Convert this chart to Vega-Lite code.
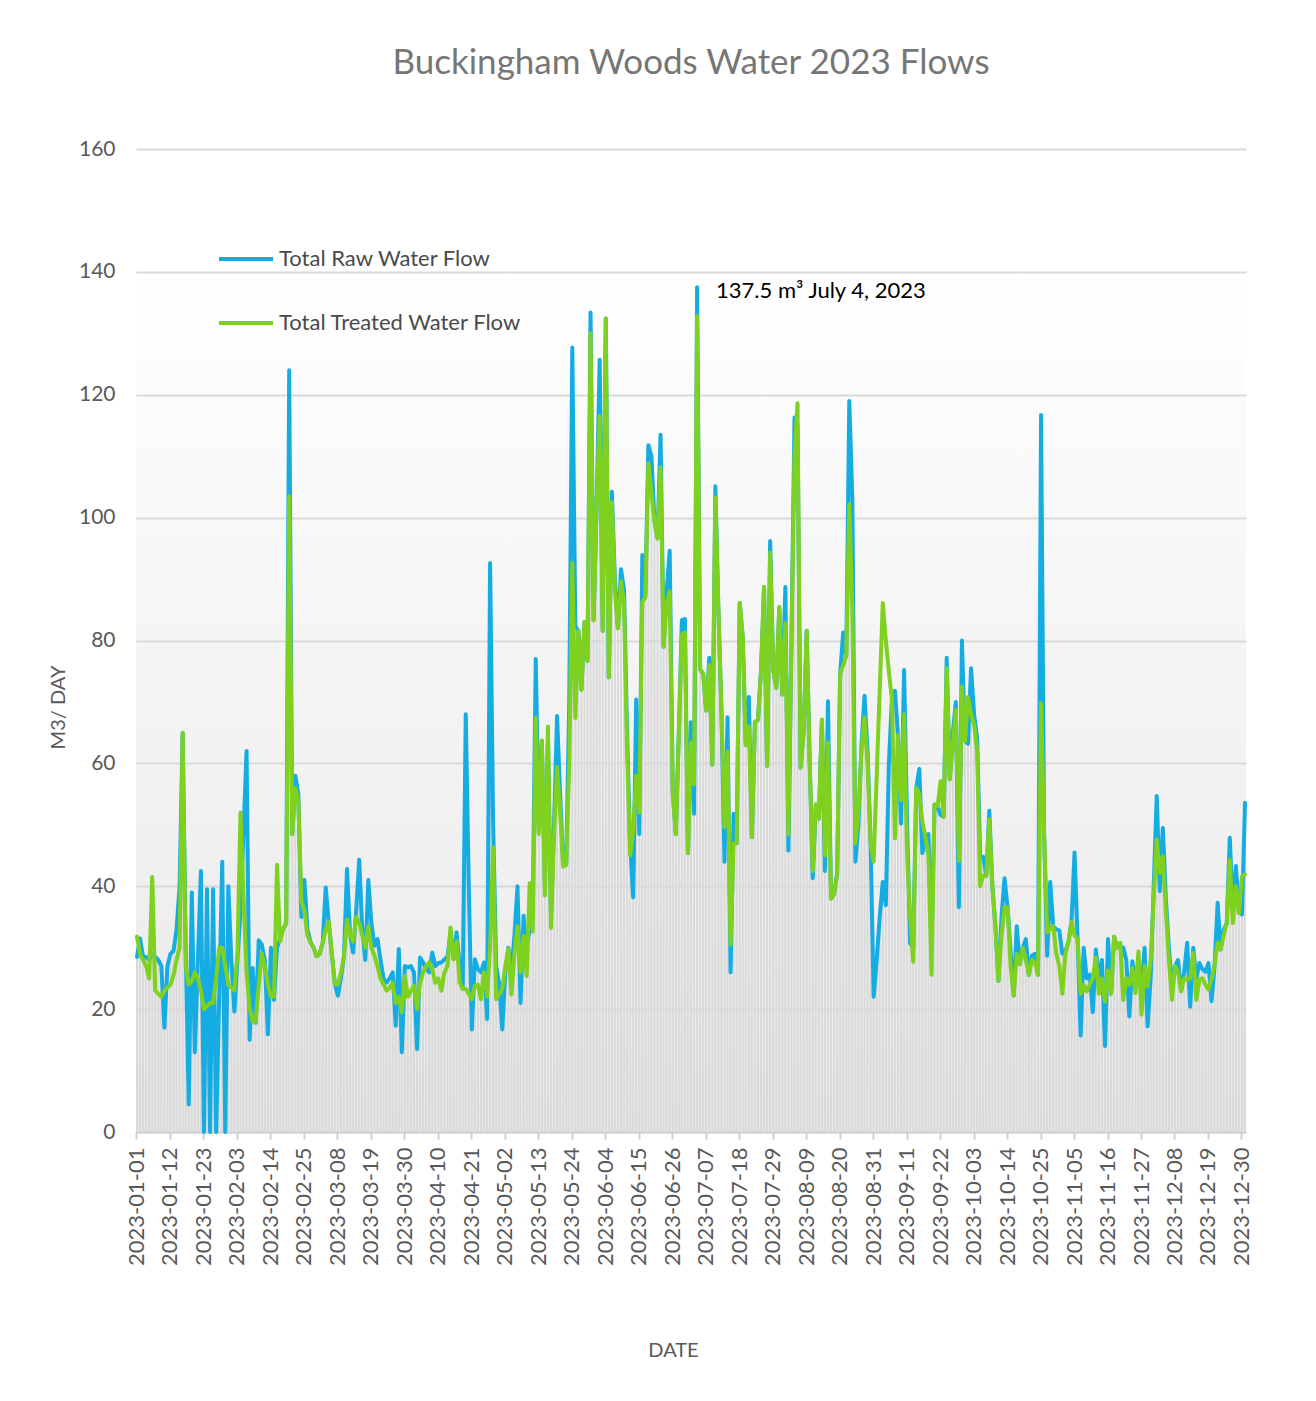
{
"$schema":"https://vega.github.io/schema/vega-lite/v6.json",
"width":1110,"height":983,
"autosize":{"type":"none"},
"padding":{"left":136,"top":149,"right":70,"bottom":269},
"background":"white",
"title":{"text":"Buckingham Woods Water 2023 Flows","font":"Lato","fontSize":35,"fontWeight":"normal","color":"#767676","anchor":"middle","offset":57},
"config":{"view":{"stroke":null,"fill":{"gradient":"linear","x1":0,"y1":0,"x2":0,"y2":1,"stops":[{"offset":0,"color":"#ffffff"},{"offset":0.12,"color":"#ffffff"},{"offset":0.5,"color":"#f5f5f5"},{"offset":1,"color":"#e9e9e9"}]}},"font":"Lato"},
"data":{"values":[
{"date":"2023-01-01","raw":28.5,"treated":31.8},{"date":"2023-01-02","raw":31.5,"treated":29},{"date":"2023-01-03","raw":28.5,"treated":28},{"date":"2023-01-04","raw":28.5,"treated":27},{"date":"2023-01-05","raw":28,"treated":25},{"date":"2023-01-06","raw":29,"treated":41.5},{"date":"2023-01-07","raw":28.5,"treated":23},{"date":"2023-01-08","raw":28,"treated":22.5},{"date":"2023-01-09","raw":27,"treated":22},{"date":"2023-01-10","raw":17,"treated":23},
{"date":"2023-01-11","raw":27,"treated":23.5},{"date":"2023-01-12","raw":29,"treated":24},{"date":"2023-01-13","raw":29.5,"treated":25.5},{"date":"2023-01-14","raw":33,"treated":28},{"date":"2023-01-15","raw":40,"treated":30},{"date":"2023-01-16","raw":65,"treated":65},{"date":"2023-01-17","raw":30,"treated":27},{"date":"2023-01-18","raw":4.5,"treated":24},{"date":"2023-01-19","raw":39,"treated":24.5},{"date":"2023-01-20","raw":13,"treated":26},
{"date":"2023-01-21","raw":28,"treated":25},{"date":"2023-01-22","raw":42.5,"treated":23},{"date":"2023-01-23","raw":0,"treated":20},{"date":"2023-01-24","raw":39.5,"treated":20.5},{"date":"2023-01-25","raw":0,"treated":21},{"date":"2023-01-26","raw":39.5,"treated":21},{"date":"2023-01-27","raw":0,"treated":25},{"date":"2023-01-28","raw":22,"treated":30},{"date":"2023-01-29","raw":44,"treated":30},{"date":"2023-01-30","raw":0,"treated":27},{"date":"2023-01-31","raw":40,"treated":24},
{"date":"2023-02-01","raw":28,"treated":23.5},{"date":"2023-02-02","raw":19.6,"treated":23},{"date":"2023-02-03","raw":28,"treated":29},{"date":"2023-02-04","raw":36,"treated":52},{"date":"2023-02-05","raw":49,"treated":38},{"date":"2023-02-06","raw":62,"treated":26},{"date":"2023-02-07","raw":15,"treated":20},{"date":"2023-02-08","raw":26.7,"treated":18},{"date":"2023-02-09","raw":17.8,"treated":18},{"date":"2023-02-10","raw":31.2,"treated":24},
{"date":"2023-02-11","raw":30.5,"treated":29},{"date":"2023-02-12","raw":28,"treated":27},{"date":"2023-02-13","raw":15.9,"treated":24},{"date":"2023-02-14","raw":30,"treated":22},{"date":"2023-02-15","raw":21.5,"treated":22},{"date":"2023-02-16","raw":30,"treated":43.5},{"date":"2023-02-17","raw":31.5,"treated":31},{"date":"2023-02-18","raw":33,"treated":33},{"date":"2023-02-19","raw":34,"treated":34},{"date":"2023-02-20","raw":124,"treated":103.5},
{"date":"2023-02-21","raw":48.5,"treated":48.5},{"date":"2023-02-22","raw":58,"treated":56},{"date":"2023-02-23","raw":55,"treated":54},{"date":"2023-02-24","raw":35,"treated":37.5},{"date":"2023-02-25","raw":41,"treated":36},{"date":"2023-02-26","raw":33,"treated":32},{"date":"2023-02-27","raw":31,"treated":30.8},{"date":"2023-02-28","raw":30,"treated":30},
{"date":"2023-03-01","raw":28.6,"treated":28.6},{"date":"2023-03-02","raw":29,"treated":29},{"date":"2023-03-03","raw":30.8,"treated":30.8},{"date":"2023-03-04","raw":39.8,"treated":33},{"date":"2023-03-05","raw":34,"treated":34.2},{"date":"2023-03-06","raw":29,"treated":29},{"date":"2023-03-07","raw":24.1,"treated":24.1},{"date":"2023-03-08","raw":22.2,"treated":24},{"date":"2023-03-09","raw":25,"treated":26},{"date":"2023-03-10","raw":28.6,"treated":28.6},
{"date":"2023-03-11","raw":42.8,"treated":34.6},{"date":"2023-03-12","raw":32,"treated":32},{"date":"2023-03-13","raw":29.2,"treated":31},{"date":"2023-03-14","raw":36,"treated":35},{"date":"2023-03-15","raw":44.3,"treated":34},{"date":"2023-03-16","raw":33,"treated":32},{"date":"2023-03-17","raw":28,"treated":30},{"date":"2023-03-18","raw":41,"treated":33.5},{"date":"2023-03-19","raw":34,"treated":30},{"date":"2023-03-20","raw":30.3,"treated":28.7},
{"date":"2023-03-21","raw":31.4,"treated":27},{"date":"2023-03-22","raw":28,"treated":25},{"date":"2023-03-23","raw":25,"treated":24},{"date":"2023-03-24","raw":24.3,"treated":23},{"date":"2023-03-25","raw":25,"treated":23.5},{"date":"2023-03-26","raw":26,"treated":24.3},{"date":"2023-03-27","raw":17.3,"treated":21},{"date":"2023-03-28","raw":29.8,"treated":22},{"date":"2023-03-29","raw":13,"treated":19.5},{"date":"2023-03-30","raw":27,"treated":25.4},{"date":"2023-03-31","raw":26.8,"treated":22},
{"date":"2023-04-01","raw":27,"treated":23},{"date":"2023-04-02","raw":26,"treated":23.8},{"date":"2023-04-03","raw":13.5,"treated":20},{"date":"2023-04-04","raw":28.4,"treated":24.3},{"date":"2023-04-05","raw":27.6,"treated":26},{"date":"2023-04-06","raw":26.5,"treated":27},{"date":"2023-04-07","raw":26,"treated":27.6},{"date":"2023-04-08","raw":29.2,"treated":26.5},{"date":"2023-04-09","raw":27,"treated":24.3},{"date":"2023-04-10","raw":27.5,"treated":25},
{"date":"2023-04-11","raw":27.6,"treated":23},{"date":"2023-04-12","raw":28.1,"treated":26},{"date":"2023-04-13","raw":28.5,"treated":27},{"date":"2023-04-14","raw":32.5,"treated":33.3},{"date":"2023-04-15","raw":28.1,"treated":28.1},{"date":"2023-04-16","raw":32.5,"treated":31.1},{"date":"2023-04-17","raw":27,"treated":24.3},{"date":"2023-04-18","raw":23.3,"treated":23.3},{"date":"2023-04-19","raw":68,"treated":23.3},{"date":"2023-04-20","raw":40,"treated":22.5},
{"date":"2023-04-21","raw":16.7,"treated":21.6},{"date":"2023-04-22","raw":28.1,"treated":23.8},{"date":"2023-04-23","raw":26.5,"treated":24},{"date":"2023-04-24","raw":26,"treated":21.6},{"date":"2023-04-25","raw":27.6,"treated":26},{"date":"2023-04-26","raw":18.4,"treated":22},{"date":"2023-04-27","raw":92.6,"treated":30},{"date":"2023-04-28","raw":50,"treated":46.3},{"date":"2023-04-29","raw":27,"treated":21.6},{"date":"2023-04-30","raw":24,"treated":22.5},
{"date":"2023-05-01","raw":16.7,"treated":23.3},{"date":"2023-05-02","raw":26,"treated":27},{"date":"2023-05-03","raw":30,"treated":29.8},{"date":"2023-05-04","raw":26,"treated":22.4},{"date":"2023-05-05","raw":32,"treated":29},{"date":"2023-05-06","raw":40,"treated":33.5},{"date":"2023-05-07","raw":21,"treated":26},{"date":"2023-05-08","raw":35.2,"treated":31.9},{"date":"2023-05-09","raw":30,"treated":25.4},{"date":"2023-05-10","raw":33,"treated":40.5},
{"date":"2023-05-11","raw":36,"treated":32.6},{"date":"2023-05-12","raw":77,"treated":67.4},{"date":"2023-05-13","raw":49,"treated":48.5},{"date":"2023-05-14","raw":63.7,"treated":63.7},{"date":"2023-05-15","raw":40,"treated":38.5},{"date":"2023-05-16","raw":64,"treated":66},{"date":"2023-05-17","raw":35,"treated":33.2},{"date":"2023-05-18","raw":50,"treated":48},{"date":"2023-05-19","raw":67.7,"treated":59.4},{"date":"2023-05-20","raw":55,"treated":52},
{"date":"2023-05-21","raw":44,"treated":43.2},{"date":"2023-05-22","raw":43.5,"treated":43.5},{"date":"2023-05-23","raw":70,"treated":60},{"date":"2023-05-24","raw":127.7,"treated":92.6},{"date":"2023-05-25","raw":82.3,"treated":67.4},{"date":"2023-05-26","raw":81.6,"treated":81.6},{"date":"2023-05-27","raw":72,"treated":72},{"date":"2023-05-28","raw":83,"treated":83},{"date":"2023-05-29","raw":76.7,"treated":76.7},{"date":"2023-05-30","raw":133.4,"treated":130},{"date":"2023-05-31","raw":83.3,"treated":83.3},
{"date":"2023-06-01","raw":102,"treated":102},{"date":"2023-06-02","raw":125.7,"treated":116.5},{"date":"2023-06-03","raw":81.6,"treated":81.6},{"date":"2023-06-04","raw":132.4,"treated":132.4},{"date":"2023-06-05","raw":74,"treated":74},{"date":"2023-06-06","raw":104.2,"treated":102.5},{"date":"2023-06-07","raw":90,"treated":88},{"date":"2023-06-08","raw":82,"treated":82},{"date":"2023-06-09","raw":91.6,"treated":89.6},{"date":"2023-06-10","raw":88.3,"treated":86},
{"date":"2023-06-11","raw":65,"treated":62},{"date":"2023-06-12","raw":47,"treated":45},{"date":"2023-06-13","raw":38.2,"treated":49},{"date":"2023-06-14","raw":70.4,"treated":58},{"date":"2023-06-15","raw":48.5,"treated":52},{"date":"2023-06-16","raw":93.9,"treated":86.3},{"date":"2023-06-17","raw":87.3,"treated":87},{"date":"2023-06-18","raw":111.8,"treated":108.8},{"date":"2023-06-19","raw":110,"treated":104},{"date":"2023-06-20","raw":99.5,"treated":99.5},
{"date":"2023-06-21","raw":96.6,"treated":96.6},{"date":"2023-06-22","raw":113.5,"treated":108.2},{"date":"2023-06-23","raw":79,"treated":79},{"date":"2023-06-24","raw":88,"treated":86},{"date":"2023-06-25","raw":94.6,"treated":88},{"date":"2023-06-26","raw":55.8,"treated":55},{"date":"2023-06-27","raw":48.5,"treated":48.5},{"date":"2023-06-28","raw":65,"treated":65},{"date":"2023-06-29","raw":83.3,"treated":81},{"date":"2023-06-30","raw":83.5,"treated":81.3},
{"date":"2023-07-01","raw":45.4,"treated":45.4},{"date":"2023-07-02","raw":66.7,"treated":63.4},{"date":"2023-07-03","raw":51.8,"treated":56.6},{"date":"2023-07-04","raw":137.5,"treated":132.8},{"date":"2023-07-05","raw":75.3,"treated":75.3},{"date":"2023-07-06","raw":74.6,"treated":74.6},{"date":"2023-07-07","raw":68.6,"treated":68.6},{"date":"2023-07-08","raw":77.2,"treated":76},{"date":"2023-07-09","raw":59.8,"treated":59.8},{"date":"2023-07-10","raw":105.1,"treated":103.3},
{"date":"2023-07-11","raw":85,"treated":85},{"date":"2023-07-12","raw":68.6,"treated":68.6},{"date":"2023-07-13","raw":44,"treated":49.6},{"date":"2023-07-14","raw":67.5,"treated":61.9},{"date":"2023-07-15","raw":26,"treated":30.5},{"date":"2023-07-16","raw":51.8,"treated":47},{"date":"2023-07-17","raw":47,"treated":47},{"date":"2023-07-18","raw":86.1,"treated":86.1},{"date":"2023-07-19","raw":80.5,"treated":80.5},{"date":"2023-07-20","raw":63,"treated":63},
{"date":"2023-07-21","raw":70.8,"treated":66},{"date":"2023-07-22","raw":48,"treated":48},{"date":"2023-07-23","raw":66.7,"treated":66.7},{"date":"2023-07-24","raw":67.1,"treated":67.1},{"date":"2023-07-25","raw":75,"treated":75},{"date":"2023-07-26","raw":88.7,"treated":88.7},{"date":"2023-07-27","raw":59.6,"treated":59.6},{"date":"2023-07-28","raw":96.2,"treated":94.3},{"date":"2023-07-29","raw":75.3,"treated":75.3},{"date":"2023-07-30","raw":72.3,"treated":72.3},{"date":"2023-07-31","raw":85.4,"treated":85.4},
{"date":"2023-08-01","raw":71.2,"treated":71.2},{"date":"2023-08-02","raw":88.7,"treated":82.8},{"date":"2023-08-03","raw":45.8,"treated":48.4},{"date":"2023-08-04","raw":80,"treated":80},{"date":"2023-08-05","raw":116.3,"treated":110},{"date":"2023-08-06","raw":115,"treated":118.6},{"date":"2023-08-07","raw":59.3,"treated":59.3},{"date":"2023-08-08","raw":65,"treated":65},{"date":"2023-08-09","raw":81.6,"treated":81.6},{"date":"2023-08-10","raw":60,"treated":60},
{"date":"2023-08-11","raw":41.3,"treated":42.5},{"date":"2023-08-12","raw":53.3,"treated":53.3},{"date":"2023-08-13","raw":51,"treated":51},{"date":"2023-08-14","raw":67.1,"treated":67.1},{"date":"2023-08-15","raw":42.5,"treated":45},{"date":"2023-08-16","raw":70.1,"treated":63.4},{"date":"2023-08-17","raw":38,"treated":38},{"date":"2023-08-18","raw":38.7,"treated":38.7},{"date":"2023-08-19","raw":42,"treated":42},{"date":"2023-08-20","raw":74.6,"treated":74.6},
{"date":"2023-08-21","raw":81.3,"treated":76},{"date":"2023-08-22","raw":77.5,"treated":77.5},{"date":"2023-08-23","raw":119,"treated":102.2},{"date":"2023-08-24","raw":103,"treated":85},{"date":"2023-08-25","raw":44,"treated":47},{"date":"2023-08-26","raw":50,"treated":52},{"date":"2023-08-27","raw":63,"treated":62},{"date":"2023-08-28","raw":71,"treated":67.5},{"date":"2023-08-29","raw":62,"treated":60},{"date":"2023-08-30","raw":47,"treated":47},{"date":"2023-08-31","raw":22,"treated":44},
{"date":"2023-09-01","raw":28,"treated":58},{"date":"2023-09-02","raw":35,"treated":72},{"date":"2023-09-03","raw":40.7,"treated":86.1},{"date":"2023-09-04","raw":36.9,"treated":80},{"date":"2023-09-05","raw":60,"treated":75},{"date":"2023-09-06","raw":70.4,"treated":70.4},{"date":"2023-09-07","raw":71.8,"treated":47.8},{"date":"2023-09-08","raw":64.6,"treated":64.6},{"date":"2023-09-09","raw":50.2,"treated":54},{"date":"2023-09-10","raw":75.2,"treated":68},
{"date":"2023-09-11","raw":50,"treated":45},{"date":"2023-09-12","raw":30.7,"treated":35},{"date":"2023-09-13","raw":30,"treated":27.7},{"date":"2023-09-14","raw":56,"treated":56},{"date":"2023-09-15","raw":59.1,"treated":55},{"date":"2023-09-16","raw":45.4,"treated":50.6},{"date":"2023-09-17","raw":48,"treated":48},{"date":"2023-09-18","raw":48.5,"treated":45},{"date":"2023-09-19","raw":30,"treated":25.6},{"date":"2023-09-20","raw":53.3,"treated":53.3},
{"date":"2023-09-21","raw":53,"treated":53},{"date":"2023-09-22","raw":51.6,"treated":57.1},{"date":"2023-09-23","raw":51.3,"treated":51.3},{"date":"2023-09-24","raw":77.2,"treated":75.5},{"date":"2023-09-25","raw":57.4,"treated":57.4},{"date":"2023-09-26","raw":65,"treated":63},{"date":"2023-09-27","raw":70,"treated":68.7},{"date":"2023-09-28","raw":36.6,"treated":44.1},{"date":"2023-09-29","raw":80,"treated":72.5},{"date":"2023-09-30","raw":63.6,"treated":63.6},
{"date":"2023-10-01","raw":63.2,"treated":70.8},{"date":"2023-10-02","raw":75.5,"treated":68},{"date":"2023-10-03","raw":68,"treated":66.3},{"date":"2023-10-04","raw":64,"treated":62},{"date":"2023-10-05","raw":44.8,"treated":40},{"date":"2023-10-06","raw":44.8,"treated":41.7},{"date":"2023-10-07","raw":41.7,"treated":41.7},{"date":"2023-10-08","raw":52.3,"treated":50.9},{"date":"2023-10-09","raw":40,"treated":40},{"date":"2023-10-10","raw":33.5,"treated":33.5},
{"date":"2023-10-11","raw":24.6,"treated":24.6},{"date":"2023-10-12","raw":35,"treated":32},{"date":"2023-10-13","raw":41.3,"treated":36.6},{"date":"2023-10-14","raw":36.6,"treated":36.6},{"date":"2023-10-15","raw":29.4,"treated":27},{"date":"2023-10-16","raw":22.2,"treated":22.2},{"date":"2023-10-17","raw":33.5,"treated":29},{"date":"2023-10-18","raw":27.3,"treated":27.3},{"date":"2023-10-19","raw":30,"treated":30},{"date":"2023-10-20","raw":31.4,"treated":28},
{"date":"2023-10-21","raw":25.6,"treated":25.6},{"date":"2023-10-22","raw":28.7,"treated":28},{"date":"2023-10-23","raw":29,"treated":27.5},{"date":"2023-10-24","raw":25.6,"treated":25.6},{"date":"2023-10-25","raw":116.7,"treated":69.8},{"date":"2023-10-26","raw":48.6,"treated":48.6},{"date":"2023-10-27","raw":28.7,"treated":32.5},{"date":"2023-10-28","raw":40.7,"treated":33},{"date":"2023-10-29","raw":33.5,"treated":33.5},{"date":"2023-10-30","raw":33,"treated":29},{"date":"2023-10-31","raw":32.8,"treated":27},
{"date":"2023-11-01","raw":29,"treated":22.5},{"date":"2023-11-02","raw":29.4,"treated":29},{"date":"2023-11-03","raw":31,"treated":31},{"date":"2023-11-04","raw":34.2,"treated":34.2},{"date":"2023-11-05","raw":45.5,"treated":32},{"date":"2023-11-06","raw":31.4,"treated":31.4},{"date":"2023-11-07","raw":15.7,"treated":22.5},{"date":"2023-11-08","raw":30,"treated":24},{"date":"2023-11-09","raw":25,"treated":22.9},{"date":"2023-11-10","raw":25.6,"treated":24},
{"date":"2023-11-11","raw":19.5,"treated":25},{"date":"2023-11-12","raw":29.7,"treated":28.4},{"date":"2023-11-13","raw":25,"treated":22.5},{"date":"2023-11-14","raw":28,"treated":25},{"date":"2023-11-15","raw":14,"treated":21.2},{"date":"2023-11-16","raw":31.4,"treated":26.3},{"date":"2023-11-17","raw":22.5,"treated":22.5},{"date":"2023-11-18","raw":31.8,"treated":31.8},{"date":"2023-11-19","raw":30,"treated":30},{"date":"2023-11-20","raw":30.2,"treated":30.8},
{"date":"2023-11-21","raw":30,"treated":21.5},{"date":"2023-11-22","raw":28,"treated":25},{"date":"2023-11-23","raw":18.8,"treated":24},{"date":"2023-11-24","raw":27.8,"treated":26.7},{"date":"2023-11-25","raw":24,"treated":22.6},{"date":"2023-11-26","raw":28,"treated":29.4},{"date":"2023-11-27","raw":23,"treated":19.1},{"date":"2023-11-28","raw":30,"treated":27},{"date":"2023-11-29","raw":17.2,"treated":23.7},{"date":"2023-11-30","raw":25,"treated":28},
{"date":"2023-12-01","raw":40,"treated":38},{"date":"2023-12-02","raw":54.7,"treated":47.6},{"date":"2023-12-03","raw":39.2,"treated":42.2},{"date":"2023-12-04","raw":49.5,"treated":44.9},{"date":"2023-12-05","raw":38,"treated":36},{"date":"2023-12-06","raw":30,"treated":28},{"date":"2023-12-07","raw":24,"treated":21.5},{"date":"2023-12-08","raw":27,"treated":27},{"date":"2023-12-09","raw":28,"treated":26},{"date":"2023-12-10","raw":22.9,"treated":22.9},
{"date":"2023-12-11","raw":26,"treated":25},{"date":"2023-12-12","raw":30.8,"treated":24.8},{"date":"2023-12-13","raw":20.4,"treated":25},{"date":"2023-12-14","raw":30,"treated":29.1},{"date":"2023-12-15","raw":25,"treated":21.5},{"date":"2023-12-16","raw":27.5,"treated":24.8},{"date":"2023-12-17","raw":26.5,"treated":25},{"date":"2023-12-18","raw":26.1,"treated":24},{"date":"2023-12-19","raw":27.5,"treated":23.2},{"date":"2023-12-20","raw":21.3,"treated":25},
{"date":"2023-12-21","raw":27,"treated":27.2},{"date":"2023-12-22","raw":37.3,"treated":30.8},{"date":"2023-12-23","raw":29.7,"treated":29.7},{"date":"2023-12-24","raw":32.9,"treated":32},{"date":"2023-12-25","raw":34,"treated":34},{"date":"2023-12-26","raw":47.9,"treated":44.3},{"date":"2023-12-27","raw":36,"treated":34},{"date":"2023-12-28","raw":43.3,"treated":40},{"date":"2023-12-29","raw":36,"treated":35.6},{"date":"2023-12-30","raw":35.4,"treated":41.6},{"date":"2023-12-31","raw":53.6,"treated":41.9}
]},
"layer":[
{"mark":{"type":"bar","color":"#d9d9d9"},
 "encoding":{
  "x":{"field":"date","type":"ordinal","scale":{"paddingInner":0.35,"paddingOuter":0},
   "axis":{"title":"DATE","values":["2023-01-01","2023-01-12","2023-01-23","2023-02-03","2023-02-14","2023-02-25","2023-03-08","2023-03-19","2023-03-30","2023-04-10","2023-04-21","2023-05-02","2023-05-13","2023-05-24","2023-06-04","2023-06-15","2023-06-26","2023-07-07","2023-07-18","2023-07-29","2023-08-09","2023-08-20","2023-08-31","2023-09-11","2023-09-22","2023-10-03","2023-10-14","2023-10-25","2023-11-05","2023-11-16","2023-11-27","2023-12-08","2023-12-19","2023-12-30"],
    "labelAngle":-90,"labelFontSize":22,"labelColor":"#595959","labelFont":"Lato","labelPadding":8,
    "ticks":true,"tickColor":"#d0d0d0","tickSize":7,"tickWidth":2,
    "domain":true,"domainColor":"#d0d0d0","domainWidth":2,"grid":false,
    "titleFontSize":20,"titleFont":"Lato","titleFontWeight":"normal","titleColor":"#595959","titlePadding":75,"titleX":537}},
  "y":{"field":"raw","type":"quantitative","scale":{"domain":[0,160],"nice":false},
   "axis":{"title":"M3/ DAY","values":[0,20,40,60,80,100,120,140,160],"grid":true,"gridColor":"#d9d9d9","gridWidth":2,"domain":false,"ticks":false,
    "labelFontSize":21,"labelColor":"#595959","labelFont":"Lato","labelPadding":21,
    "titleFontSize":20,"titleFont":"Lato","titleFontWeight":"normal","titleColor":"#595959","titlePadding":10,"titleY":558}}}},
{"mark":{"type":"line","strokeWidth":4,"strokeCap":"round","strokeJoin":"round"},
 "encoding":{"x":{"field":"date","type":"ordinal"},"y":{"field":"raw","type":"quantitative"},
  "color":{"datum":"Total Raw Water Flow","type":"nominal","scale":{"domain":["Total Raw Water Flow","Total Treated Water Flow"],"range":["#15ACE4","#7ED11F"]},
   "legend":{"title":null,"orient":"none","legendX":81,"legendY":81,"padding":0,"symbolType":"stroke","symbolSize":2916,"symbolStrokeWidth":4,"labelFontSize":22,"labelColor":"#4a4a4a","labelFont":"Lato","labelOffset":4,"labelLimit":0,"rowPadding":24}}}},
{"mark":{"type":"line","strokeWidth":4,"strokeCap":"round","strokeJoin":"round"},
 "encoding":{"x":{"field":"date","type":"ordinal"},"y":{"field":"treated","type":"quantitative"},
  "color":{"datum":"Total Treated Water Flow","type":"nominal"}}},
{"data":{"values":[{"date":"2023-07-04","value":137.5,"note":"137.5 m³ July 4, 2023"}]},
 "mark":{"type":"text","align":"left","baseline":"middle","dx":19,"dy":4,"fontSize":22,"font":"Lato","color":"#000000"},
 "encoding":{"x":{"field":"date","type":"ordinal"},"y":{"field":"value","type":"quantitative"},"text":{"field":"note"}}}
]
}
